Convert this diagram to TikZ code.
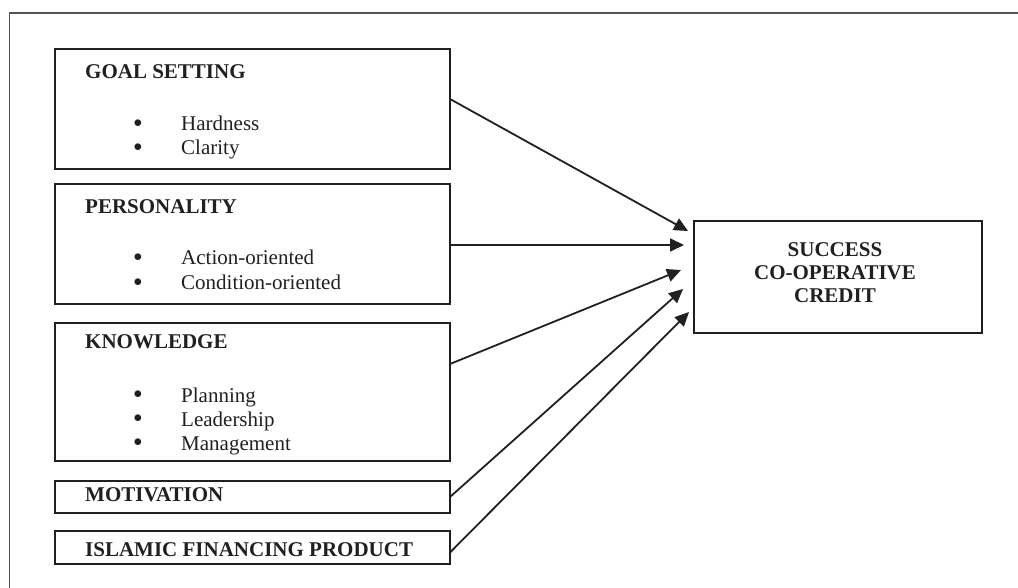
\documentclass[tikz,border=0pt]{standalone}
\usepackage{fontspec}
\setmainfont{Liberation Serif}
\usetikzlibrary{arrows.meta}
\definecolor{boxline}{HTML}{231F20}
\definecolor{frameline}{HTML}{555555}
\tikzstyle{factorbox} = [draw=boxline, line width=1.7pt, rectangle,
    inner sep=0pt, outer sep=0pt, anchor=north west, minimum width=395pt]
\tikzstyle{boxtitle} = [anchor=base west, inner sep=0pt, text=boxline,
    font=\fontsize{21}{24}\selectfont\bfseries]
\tikzstyle{boxitem} = [anchor=base west, inner sep=0pt, text=boxline,
    font=\fontsize{21}{24}\selectfont]
\tikzstyle{link} = [line width=1.8pt, draw=boxline,
    -{Triangle[length=14pt,width=13pt]}]
\newcommand{\bulletitem}[1]{\makebox[47.5pt][l]{\raisebox{3.5pt}{\fontsize{16}{16}\selectfont$\bullet$}}#1}

\begin{document}
\begin{tikzpicture}[x=1pt,y=-1pt]
    \useasboundingbox (0,0) rectangle (1018,588);
    \draw[frameline, line width=1.5pt] (1018,13) -- (9.5,13) -- (9.5,588);

    % factor boxes
    \node[factorbox, minimum height=120pt] (goal) at (55,49) {};
    \node[factorbox, minimum height=120pt] (pers) at (55,184) {};
    \node[factorbox, minimum height=138pt] (know) at (55,323) {};
    \node[factorbox, minimum height=32pt] (motiv) at (55,481) {};
    \node[factorbox, minimum height=33pt] (islam) at (55,531) {};
    \node[factorbox, minimum width=288pt, minimum height=112pt] (succ) at (694,221) {};

    % titles
    \node[boxtitle] (goaltitle) at (85,79) {GOAL SETTING};
    \node[boxtitle] (perstitle) at (85,214) {PERSONALITY};
    \node[boxtitle] (knowtitle) at (85,348) {KNOWLEDGE};
    \node[boxtitle] (motivtitle) at (85,501) {MOTIVATION};
    \node[boxtitle] (islamtitle) at (85,556) {ISLAMIC FINANCING PRODUCT};
    \node[font=\fontsize{21}{23}\selectfont\bfseries, text=boxline, align=center] (succtitle) at (835,273)
        {SUCCESS\\CO-OPERATIVE\\CREDIT};

    % items
    \node[boxitem] (goal1) at (133.5,131) {\bulletitem{Hardness}};
    \node[boxitem] (goal2) at (133.5,155) {\bulletitem{Clarity}};
    \node[boxitem] (pers1) at (133.5,265) {\bulletitem{Action-oriented}};
    \node[boxitem] (pers2) at (133.5,290) {\bulletitem{Condition-oriented}};
    \node[boxitem] (know1) at (133.5,402) {\bulletitem{Planning}};
    \node[boxitem] (know2) at (133.5,426) {\bulletitem{Leadership}};
    \node[boxitem] (know3) at (133.5,450) {\bulletitem{Management}};

    % arrow tips
    \coordinate (tipgoal) at (688,231);
    \coordinate (tippers) at (684,245);
    \coordinate (tipknow) at (681,270);
    \coordinate (tipmotiv) at (683,289);
    \coordinate (tipislam) at (689,312);

    \draw[link] ([yshift=10pt]goal.east) -- (tipgoal);
    \draw[link] ([yshift=-1pt]pers.east) -- (tippers);
    \draw[link] ([yshift=28pt]know.east) -- (tipknow);
    \draw[link] (motiv.east) -- (tipmotiv);
    \draw[link] ([yshift=-5pt]islam.east) -- (tipislam);
\end{tikzpicture}
\end{document}
